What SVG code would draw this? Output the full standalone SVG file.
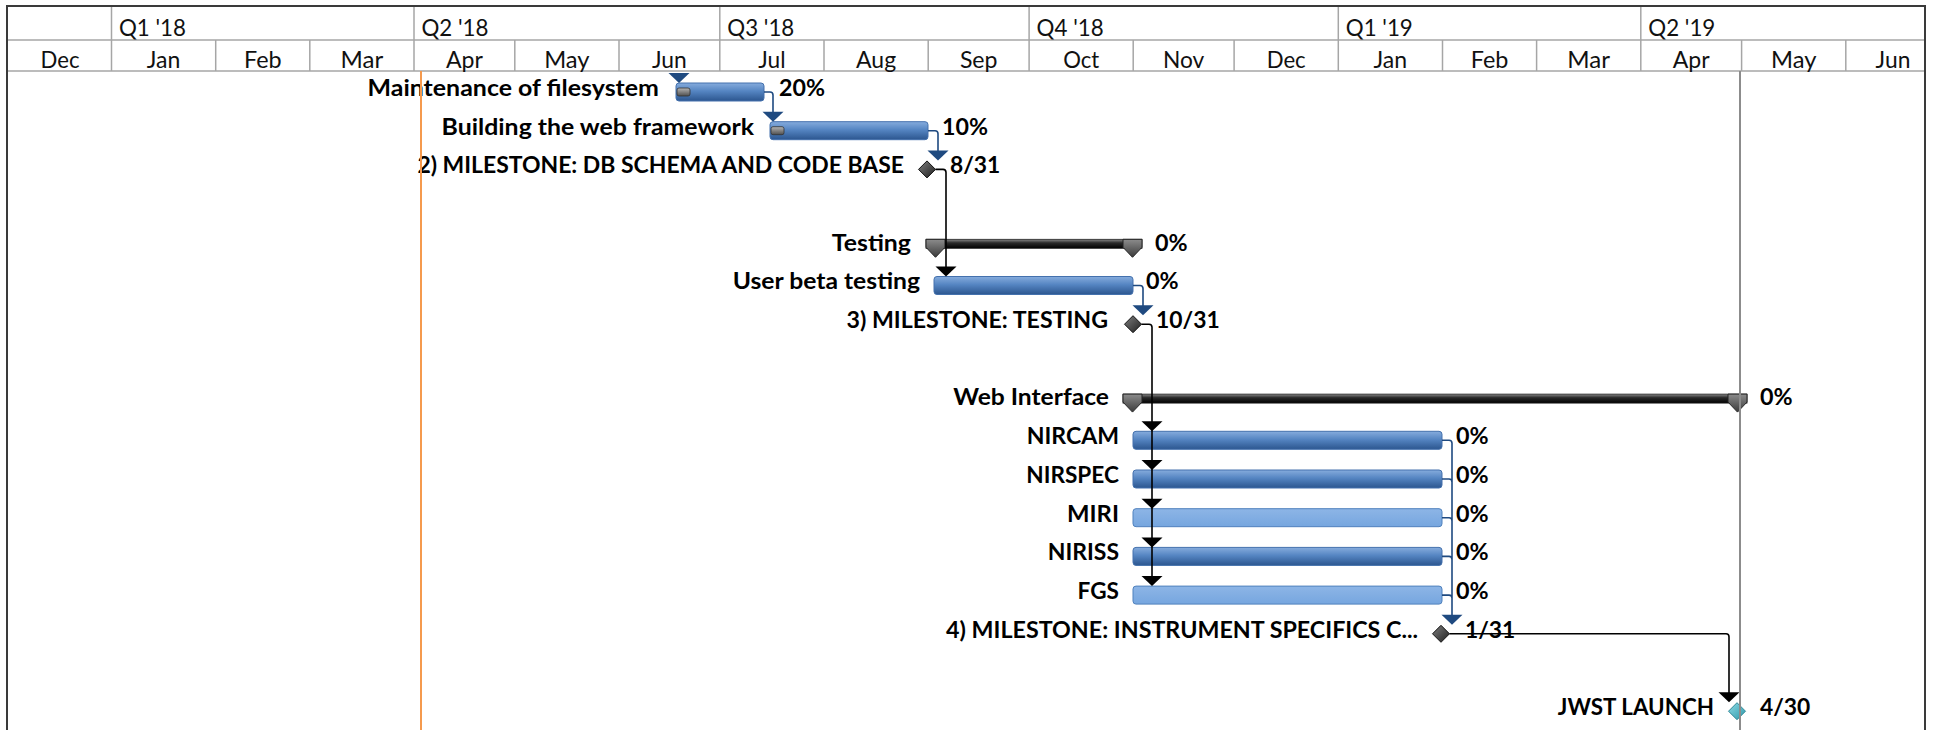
<svg xmlns="http://www.w3.org/2000/svg" width="1939" height="730" viewBox="0 0 1939 730">
<defs>
<linearGradient id="gTask" x1="0" y1="0" x2="0" y2="1"><stop offset="0" stop-color="#86ACDD"/><stop offset="0.45" stop-color="#5585C2"/><stop offset="1" stop-color="#2C568F"/></linearGradient>
<linearGradient id="gLight" x1="0" y1="0" x2="0" y2="1"><stop offset="0" stop-color="#8DB5E6"/><stop offset="1" stop-color="#76A6DF"/></linearGradient>
<linearGradient id="gSum" x1="0" y1="0" x2="0" y2="1"><stop offset="0" stop-color="#8A8A8A"/><stop offset="0.4" stop-color="#2A2A2A"/><stop offset="1" stop-color="#000"/></linearGradient>
<linearGradient id="gCap" x1="0" y1="0" x2="0" y2="1"><stop offset="0" stop-color="#8C8C8C"/><stop offset="1" stop-color="#3A3A3A"/></linearGradient>
<linearGradient id="gDia" x1="0" y1="0" x2="1" y2="1"><stop offset="0" stop-color="#808080"/><stop offset="1" stop-color="#1E1E1E"/></linearGradient>
<linearGradient id="gTeal" x1="0" y1="0" x2="1" y2="1"><stop offset="0" stop-color="#8FDBE6"/><stop offset="1" stop-color="#2B97A8"/></linearGradient>
<linearGradient id="gProg" x1="0" y1="0" x2="0" y2="1"><stop offset="0" stop-color="#B5B5B5"/><stop offset="1" stop-color="#4E4E4E"/></linearGradient>
<style>
.hd{font-family:Lato,Carlito,"Liberation Sans",sans-serif;font-size:23px;fill:#111}
.mo{text-anchor:middle}
.lb{font-family:Lato,Carlito,"Liberation Sans",sans-serif;font-size:23.5px;font-weight:bold;fill:#000}
.r{text-anchor:end}
.grid{stroke:#A6A6A6;stroke-width:1.5;fill:none}
.border{stroke:#3A3A3A;stroke-width:2;fill:none}
.task{fill:url(#gTask);stroke:#4471AD;stroke-width:1}
.light{fill:url(#gLight);stroke:#4F81BD;stroke-width:1}
.sum{fill:url(#gSum);stroke:#222;stroke-width:0.8}
.cap{fill:url(#gCap);stroke:#222;stroke-width:1}
.dia{fill:url(#gDia);stroke:#111;stroke-width:1}
.teal{fill:url(#gTeal);stroke:#2E8796;stroke-width:1}
.prog{fill:url(#gProg);stroke:#333;stroke-width:0.8}
.cb{stroke:#1F4A80;stroke-width:1.6;fill:none}
.ck{stroke:#000;stroke-width:1.6;fill:none}
.ab{fill:#1F4A80}
.ak{fill:#000}
</style>
</defs>
<rect x="0" y="0" width="1939" height="730" fill="#fff"/>

<g id="timescale">
<line class="grid" x1="7" y1="40" x2="1925" y2="40"/>
<line class="grid" x1="7" y1="71" x2="1925" y2="71"/>
<g class="grid">
<line x1="111.5" y1="6" x2="111.5" y2="71"/>
<line x1="414" y1="6" x2="414" y2="71"/>
<line x1="719.8" y1="6" x2="719.8" y2="71"/>
<line x1="1029.1" y1="6" x2="1029.1" y2="71"/>
<line x1="1338.3" y1="6" x2="1338.3" y2="71"/>
<line x1="1640.8" y1="6" x2="1640.8" y2="71"/>
<line x1="215.7" y1="40" x2="215.7" y2="71"/>
<line x1="309.8" y1="40" x2="309.8" y2="71"/>
<line x1="514.8" y1="40" x2="514.8" y2="71"/>
<line x1="619" y1="40" x2="619" y2="71"/>
<line x1="824" y1="40" x2="824" y2="71"/>
<line x1="928.2" y1="40" x2="928.2" y2="71"/>
<line x1="1133.2" y1="40" x2="1133.2" y2="71"/>
<line x1="1234.1" y1="40" x2="1234.1" y2="71"/>
<line x1="1442.5" y1="40" x2="1442.5" y2="71"/>
<line x1="1536.6" y1="40" x2="1536.6" y2="71"/>
<line x1="1741.6" y1="40" x2="1741.6" y2="71"/>
<line x1="1845.8" y1="40" x2="1845.8" y2="71"/>
</g>
<g class="hd">
<text x="119" y="35.5" textLength="67" lengthAdjust="spacingAndGlyphs">Q1 '18</text>
<text x="421.5" y="35.5" textLength="67" lengthAdjust="spacingAndGlyphs">Q2 '18</text>
<text x="727.3" y="35.5" textLength="67" lengthAdjust="spacingAndGlyphs">Q3 '18</text>
<text x="1036.6" y="35.5" textLength="67" lengthAdjust="spacingAndGlyphs">Q4 '18</text>
<text x="1345.8" y="35.5" textLength="67" lengthAdjust="spacingAndGlyphs">Q1 '19</text>
<text x="1648.3" y="35.5" textLength="67" lengthAdjust="spacingAndGlyphs">Q2 '19</text>
</g>
<g class="hd mo">
<text x="60" y="67.5" textLength="39" lengthAdjust="spacingAndGlyphs">Dec</text>
<text x="163.6" y="67.5" textLength="33.6" lengthAdjust="spacingAndGlyphs">Jan</text>
<text x="262.8" y="67.5" textLength="37.6" lengthAdjust="spacingAndGlyphs">Feb</text>
<text x="361.9" y="67.5" textLength="42.7" lengthAdjust="spacingAndGlyphs">Mar</text>
<text x="464.4" y="67.5" textLength="36.9" lengthAdjust="spacingAndGlyphs">Apr</text>
<text x="566.9" y="67.5" textLength="45.4" lengthAdjust="spacingAndGlyphs">May</text>
<text x="669.4" y="67.5" textLength="34.8" lengthAdjust="spacingAndGlyphs">Jun</text>
<text x="771.9" y="67.5" textLength="27.3" lengthAdjust="spacingAndGlyphs">Jul</text>
<text x="876.1" y="67.5" textLength="40" lengthAdjust="spacingAndGlyphs">Aug</text>
<text x="978.7" y="67.5" textLength="37.6" lengthAdjust="spacingAndGlyphs">Sep</text>
<text x="1081.2" y="67.5" textLength="36.1" lengthAdjust="spacingAndGlyphs">Oct</text>
<text x="1183.7" y="67.5" textLength="41.3" lengthAdjust="spacingAndGlyphs">Nov</text>
<text x="1286.2" y="67.5" textLength="39" lengthAdjust="spacingAndGlyphs">Dec</text>
<text x="1390.4" y="67.5" textLength="33.6" lengthAdjust="spacingAndGlyphs">Jan</text>
<text x="1489.6" y="67.5" textLength="37.6" lengthAdjust="spacingAndGlyphs">Feb</text>
<text x="1588.7" y="67.5" textLength="42.7" lengthAdjust="spacingAndGlyphs">Mar</text>
<text x="1691.2" y="67.5" textLength="36.9" lengthAdjust="spacingAndGlyphs">Apr</text>
<text x="1793.7" y="67.5" textLength="45.4" lengthAdjust="spacingAndGlyphs">May</text>
<text x="1893" y="67.5" textLength="34.8" lengthAdjust="spacingAndGlyphs">Jun</text>
</g>
</g>

<g id="task-maintenance">
<text class="lb r" x="659" y="95.8" textLength="291.5" lengthAdjust="spacingAndGlyphs">Maintenance of filesystem</text>
<rect class="task" x="676" y="83" width="88" height="18" rx="3"/>
<rect class="prog" x="677" y="88" width="13" height="8" rx="2"/>
<text class="lb" x="779" y="95.8" textLength="46" lengthAdjust="spacingAndGlyphs">20%</text>
</g>
<g id="task-building">
<text class="lb r" x="754" y="134.5" textLength="312.4" lengthAdjust="spacingAndGlyphs">Building the web framework</text>
<rect class="task" x="770" y="121.7" width="158" height="18" rx="3"/>
<rect class="prog" x="771" y="126.7" width="13" height="8" rx="2"/>
<text class="lb" x="942" y="134.5" textLength="46" lengthAdjust="spacingAndGlyphs">10%</text>
</g>
<g id="milestone-2">
<text class="lb r" x="904" y="173.2" textLength="486.6" lengthAdjust="spacingAndGlyphs">2) MILESTONE: DB SCHEMA AND CODE BASE</text>
<polygon class="dia" points="927,160.9 935.5,169.4 927,177.9 918.5,169.4"/>
<text class="lb" x="950" y="173.2" textLength="50.3" lengthAdjust="spacingAndGlyphs">8/31</text>
</g>
<g id="summary-testing">
<text class="lb r" x="911" y="250.6" textLength="79.2" lengthAdjust="spacingAndGlyphs">Testing</text>
<rect class="sum" x="926" y="239.3" width="216" height="9"/>
<polygon class="cap" points="926,239.3 945,239.3 945,247.3 935.5,257.3 926,247.3"/>
<polygon class="cap" points="1123,239.3 1142,239.3 1142,247.3 1132.5,257.3 1123,247.3"/>
<text class="lb" x="1155" y="250.6" textLength="32.6" lengthAdjust="spacingAndGlyphs">0%</text>
</g>
<g id="task-user-beta">
<text class="lb r" x="920" y="289.3" textLength="187.3" lengthAdjust="spacingAndGlyphs">User beta testing</text>
<rect class="task" x="934" y="276.5" width="199" height="18" rx="3"/>
<text class="lb" x="1146" y="289.3" textLength="32.6" lengthAdjust="spacingAndGlyphs">0%</text>
</g>
<g id="milestone-3">
<text class="lb r" x="1108" y="328" textLength="261.5" lengthAdjust="spacingAndGlyphs">3) MILESTONE: TESTING</text>
<polygon class="dia" points="1133,315.7 1141.5,324.2 1133,332.7 1124.5,324.2"/>
<text class="lb" x="1156" y="328" textLength="63.7" lengthAdjust="spacingAndGlyphs">10/31</text>
</g>
<g id="summary-web">
<text class="lb r" x="1109" y="405.4" textLength="155.7" lengthAdjust="spacingAndGlyphs">Web Interface</text>
<rect class="sum" x="1123" y="394.1" width="624" height="9"/>
<polygon class="cap" points="1123,394.1 1142,394.1 1142,402.1 1132.5,412.1 1123,402.1"/>
<polygon class="cap" points="1728,394.1 1747,394.1 1747,402.1 1737.5,412.1 1728,402.1"/>
<text class="lb" x="1760" y="405.4" textLength="32.6" lengthAdjust="spacingAndGlyphs">0%</text>
</g>
<g id="task-nircam">
<text class="lb r" x="1119" y="444.1" textLength="92.3" lengthAdjust="spacingAndGlyphs">NIRCAM</text>
<rect class="task" x="1133" y="431.3" width="309" height="18" rx="3"/>
<text class="lb" x="1456" y="444.1" textLength="32.6" lengthAdjust="spacingAndGlyphs">0%</text>
</g>
<g id="task-nirspec">
<text class="lb r" x="1119" y="482.8" textLength="92.7" lengthAdjust="spacingAndGlyphs">NIRSPEC</text>
<rect class="task" x="1133" y="470" width="309" height="18" rx="3"/>
<text class="lb" x="1456" y="482.8" textLength="32.6" lengthAdjust="spacingAndGlyphs">0%</text>
</g>
<g id="task-miri">
<text class="lb r" x="1119" y="521.5" textLength="52" lengthAdjust="spacingAndGlyphs">MIRI</text>
<rect class="light" x="1133" y="508.7" width="309" height="18" rx="3"/>
<text class="lb" x="1456" y="521.5" textLength="32.6" lengthAdjust="spacingAndGlyphs">0%</text>
</g>
<g id="task-niriss">
<text class="lb r" x="1119" y="560.2" textLength="71.3" lengthAdjust="spacingAndGlyphs">NIRISS</text>
<rect class="task" x="1133" y="547.4" width="309" height="18" rx="3"/>
<text class="lb" x="1456" y="560.2" textLength="32.6" lengthAdjust="spacingAndGlyphs">0%</text>
</g>
<g id="task-fgs">
<text class="lb r" x="1119" y="598.9" textLength="41.4" lengthAdjust="spacingAndGlyphs">FGS</text>
<rect class="light" x="1133" y="586.1" width="309" height="18" rx="3"/>
<text class="lb" x="1456" y="598.9" textLength="32.6" lengthAdjust="spacingAndGlyphs">0%</text>
</g>
<g id="milestone-4">
<text class="lb r" x="1418" y="637.6" textLength="472" lengthAdjust="spacingAndGlyphs">4) MILESTONE: INSTRUMENT SPECIFICS C...</text>
<polygon class="dia" points="1441,625.3 1449.5,633.8 1441,642.3 1432.5,633.8"/>
<text class="lb" x="1465" y="637.6" textLength="50.3" lengthAdjust="spacingAndGlyphs">1/31</text>
</g>
<g id="milestone-jwst">
<text class="lb r" x="1714" y="715" textLength="156.2" lengthAdjust="spacingAndGlyphs">JWST LAUNCH</text>
<polygon class="teal" points="1737,702.7 1745.5,711.2 1737,719.7 1728.5,711.2"/>
<text class="lb" x="1760" y="715" textLength="50.3" lengthAdjust="spacingAndGlyphs">4/30</text>
</g>

<g id="connectors">
<polygon class="ab" points="668.5,73 689.5,73 679,83"/>
<path class="cb" d="M764,92 H770 Q773,92 773,95 V112"/>
<polygon class="ab" points="762.5,111.7 783.5,111.7 773,121.7"/>
<path class="cb" d="M928,130.7 H935 Q938,130.7 938,133.7 V151"/>
<polygon class="ab" points="927.5,150.4 948.5,150.4 938,160.4"/>
<path class="ck" d="M935.5,169.4 H943 Q946,169.4 946,172.4 V267"/>
<polygon class="ak" points="935.5,266.5 956.5,266.5 946,276.5"/>
<path class="cb" d="M1133,285.5 H1140 Q1143,285.5 1143,288.5 V306"/>
<polygon class="ab" points="1132.5,305.2 1153.5,305.2 1143,315.2"/>
<path class="ck" d="M1141.5,324.2 H1149 Q1152,324.2 1152,327.2 V577"/>
<g class="ak">
<polygon points="1141.5,421.3 1162.5,421.3 1152,431.3"/>
<polygon points="1141.5,460 1162.5,460 1152,470"/>
<polygon points="1141.5,498.7 1162.5,498.7 1152,508.7"/>
<polygon points="1141.5,537.4 1162.5,537.4 1152,547.4"/>
<polygon points="1141.5,576.1 1162.5,576.1 1152,586.1"/>
</g>
<path class="cb" d="M1442,440.3 H1449 Q1452,440.3 1452,443.3 V615.5 M1442,479 H1449 Q1452,479 1452,482 M1442,517.7 H1449 Q1452,517.7 1452,520.7 M1442,556.4 H1449 Q1452,556.4 1452,559.4 M1442,595.1 H1449 Q1452,595.1 1452,598.1"/>
<polygon class="ab" points="1441.5,614.8 1462.5,614.8 1452,624.8"/>
<path class="ck" d="M1449.5,633.8 H1726 Q1729,633.8 1729,636.8 V693"/>
<polygon class="ak" points="1718.5,692.2 1739.5,692.2 1729,702.2"/>
</g>

<g id="date-lines">
<line x1="421" y1="71" x2="421" y2="730" stroke="#F59A4E" stroke-width="2"/>
<line x1="1740" y1="71" x2="1740" y2="730" stroke="#8C8C8C" stroke-width="2"/>
</g>
<g id="frame">
<line class="border" x1="6" y1="6" x2="1926" y2="6"/>
<line class="border" x1="7" y1="6" x2="7" y2="730"/>
<line class="border" x1="1925" y1="6" x2="1925" y2="730"/>
</g>
</svg>
